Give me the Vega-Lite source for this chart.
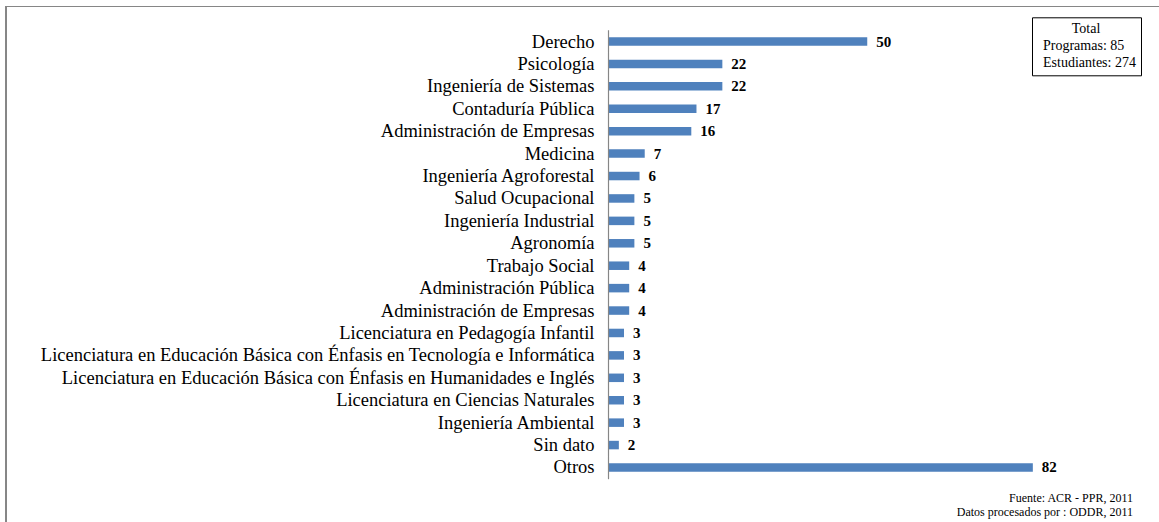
{
  "$schema": "https://vega.github.io/schema/vega-lite/v6.json",
  "width": 1153,
  "height": 516,
  "autosize": {"type": "none"},
  "padding": {"left": 6, "top": 6, "right": 0, "bottom": 0},
  "background": "white",
  "title": {
    "text": ["Fuente: ACR - PPR, 2011", "Datos procesados por : ODDR, 2011"],
    "orient": "bottom",
    "anchor": "end",
    "align": "right",
    "frame": "group",
    "offset": -30,
    "dx": -26,
    "font": "Liberation Serif",
    "fontSize": 12,
    "fontWeight": "normal",
    "lineHeight": 14,
    "color": "black"
  },
  "config": {
    "view": {"stroke": null},
    "font": "Liberation Serif",
    "axisX": {"orient": "top", "domain": true, "domainColor": "#868686", "domainWidth": 1, "labels": false, "ticks": false, "grid": false, "title": null},
    "axisY": {"orient": "left", "domain": true, "domainColor": "#868686", "domainWidth": 1, "labels": false, "ticks": false, "grid": false, "title": null}
  },
  "datasets": {
    "programas": [
      {"id": 1, "programa": "Derecho", "estudiantes": 50},
      {"id": 2, "programa": "Psicología", "estudiantes": 22},
      {"id": 3, "programa": "Ingeniería de Sistemas", "estudiantes": 22},
      {"id": 4, "programa": "Contaduría Pública", "estudiantes": 17},
      {"id": 5, "programa": "Administración de Empresas", "estudiantes": 16},
      {"id": 6, "programa": "Medicina", "estudiantes": 7},
      {"id": 7, "programa": "Ingeniería Agroforestal", "estudiantes": 6},
      {"id": 8, "programa": "Salud Ocupacional", "estudiantes": 5},
      {"id": 9, "programa": "Ingeniería Industrial", "estudiantes": 5},
      {"id": 10, "programa": "Agronomía", "estudiantes": 5},
      {"id": 11, "programa": "Trabajo Social", "estudiantes": 4},
      {"id": 12, "programa": "Administración Pública", "estudiantes": 4},
      {"id": 13, "programa": "Administración de Empresas", "estudiantes": 4},
      {"id": 14, "programa": "Licenciatura en Pedagogía Infantil", "estudiantes": 3},
      {"id": 15, "programa": "Licenciatura en Educación Básica con Énfasis en Tecnología e Informática", "estudiantes": 3},
      {"id": 16, "programa": "Licenciatura en Educación Básica con Énfasis en Humanidades e Inglés", "estudiantes": 3},
      {"id": 17, "programa": "Licenciatura en Ciencias Naturales", "estudiantes": 3},
      {"id": 18, "programa": "Ingeniería Ambiental", "estudiantes": 3},
      {"id": 19, "programa": "Sin dato", "estudiantes": 2},
      {"id": 20, "programa": "Otros", "estudiantes": 82}
    ],
    "totales": [
      {"etiqueta": "Programas: 85"},
      {"etiqueta": "Estudiantes: 274"}
    ]
  },
  "layer": [
    {
      "data": {"name": "programas"},
      "mark": {"type": "bar", "color": "#4F81BD"},
      "encoding": {
        "y": {
          "field": "id", "type": "ordinal",
          "scale": {"type": "band", "range": [24.3, 472.7], "paddingInner": 0.62, "paddingOuter": 0.31},
          "axis": {"orient": "left", "offset": -602}
        },
        "x": {
          "field": "estudiantes", "type": "quantitative",
          "scale": {"domain": [-116.43, 106.38], "nice": false, "zero": false},
          "axis": {"orient": "top"}
        },
        "x2": {"datum": 0}
      }
    },
    {
      "data": {"name": "programas"},
      "mark": {"type": "tick", "color": "#868686", "opacity": 1, "size": 22.42, "thickness": 1.2},
      "encoding": {
        "y": {"field": "id", "type": "ordinal", "axis": {"orient": "left", "offset": -602}},
        "x": {"datum": 0, "type": "quantitative", "axis": {"orient": "top"}}
      }
    },
    {
      "data": {"name": "programas"},
      "mark": {"type": "rule", "color": "#868686", "strokeWidth": 1},
      "encoding": {
        "x": {"datum": -116.43, "type": "quantitative", "axis": {"orient": "top"}}
      }
    },
    {
      "data": {"name": "programas"},
      "mark": {"type": "text", "align": "right", "baseline": "middle", "dx": -14, "font": "Liberation Serif", "fontSize": 18.5, "color": "black"},
      "encoding": {
        "y": {"field": "id", "type": "ordinal", "axis": {"orient": "left", "offset": -602}},
        "x": {"datum": 0, "type": "quantitative", "axis": {"orient": "top"}},
        "text": {"field": "programa"}
      }
    },
    {
      "data": {"name": "programas"},
      "mark": {"type": "text", "align": "left", "baseline": "middle", "dx": 9, "font": "Liberation Serif", "fontSize": 15, "fontWeight": "bold", "color": "black"},
      "encoding": {
        "y": {"field": "id", "type": "ordinal", "axis": {"orient": "left", "offset": -602}},
        "x": {"field": "estudiantes", "type": "quantitative", "axis": {"orient": "top"}},
        "text": {"field": "estudiantes"}
      }
    },
    {
      "data": {"name": "totales"},
      "mark": {"type": "point", "opacity": 0},
      "encoding": {
        "color": {
          "field": "etiqueta", "type": "nominal", "sort": null,
          "legend": {
            "title": "Total",
            "orient": "none",
            "legendX": 1026,
            "legendY": 11.3,
            "strokeColor": "black",
            "fillColor": "white",
            "padding": 5,
            "titleAnchor": "middle",
            "titleFont": "Liberation Serif",
            "titleFontSize": 14,
            "titleFontWeight": "normal",
            "titleColor": "black",
            "titlePadding": 3,
            "labelFont": "Liberation Serif",
            "labelFontSize": 14,
            "labelColor": "black",
            "labelOffset": -8,
            "rowPadding": 3,
            "symbolSize": 0,
            "symbolOpacity": 0,
            "symbolStrokeWidth": 0
          }
        }
      }
    }
  ]
}
